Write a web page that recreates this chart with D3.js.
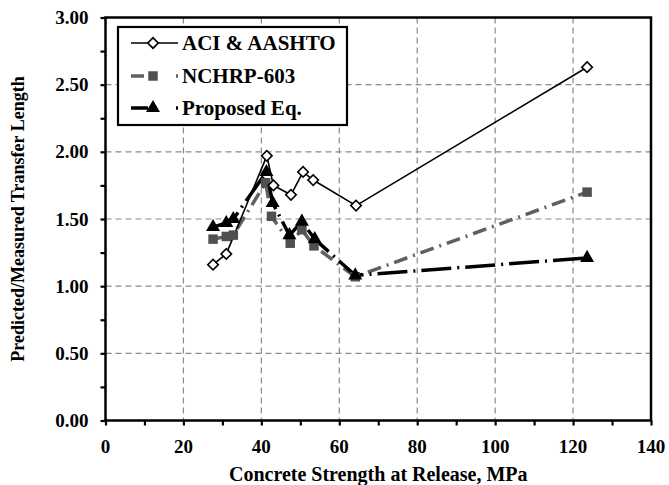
<!DOCTYPE html>
<html>
<head>
<meta charset="utf-8">
<script src="https://cdn.jsdelivr.net/npm/d3@7"></script>
<style>
  body { margin: 0; background: #fff; }
  text { font-family: "Liberation Serif", "Times New Roman", serif; font-weight: bold; }
</style>
</head>
<body>
<script>
// data
let aciX = [27.6, 31.0, 41.4, 43.1, 47.6, 50.7, 53.3, 64.3, 123.6];
let aciY = [1.16, 1.24, 1.97, 1.75, 1.68, 1.85, 1.79, 1.60, 2.63];

let nchrpX = [27.6, 31.0, 32.8, 41.1, 42.6, 47.4, 50.4, 53.5, 64.1, 123.6];
let nchrpY = [1.35, 1.37, 1.38, 1.77, 1.52, 1.32, 1.42, 1.30, 1.07, 1.70];

let propX = [27.6, 31.0, 32.8, 41.3, 42.9, 47.2, 50.4, 53.7, 64.1, 123.6];
let propY = [1.44, 1.47, 1.50, 1.85, 1.62, 1.38, 1.48, 1.35, 1.08, 1.21];

let xTicks = [0, 20, 40, 60, 80, 100, 120, 140];
let yTicks = [0, 0.5, 1, 1.5, 2, 2.5, 3];
let seriesNames = ['ACI & AASHTO', 'NCHRP-603', 'Proposed Eq.'];

let width = 669, height = 485;
let plotLeft = 105.5, plotRight = 651, plotTop = 17.5, plotBottom = 420.5;

let svg = d3.select(document.body).append('svg')
  .attr('width', width)
  .attr('height', height);

let x = d3.scaleLinear().domain([0, 140]).range([plotLeft, plotRight]);
let y = d3.scaleLinear().domain([0, 3]).range([plotBottom, plotTop]);

// grid
let grid = svg.append('g')
  .attr('stroke', '#8a8a8a')
  .attr('stroke-width', 1.2)
  .attr('stroke-dasharray', '6,4');
grid.selectAll('line.v')
  .data(xTicks.filter(d => d > 0 && d < 140))
  .join('line')
    .attr('class', 'v')
    .attr('x1', d => x(d)).attr('x2', d => x(d))
    .attr('y1', plotTop).attr('y2', plotBottom);
grid.selectAll('line.h')
  .data(yTicks.filter(d => d > 0 && d < 3))
  .join('line')
    .attr('class', 'h')
    .attr('x1', plotLeft).attr('x2', plotRight)
    .attr('y1', d => y(d)).attr('y2', d => y(d));

// axes
let xAxis = d3.axisBottom(x).tickValues(d3.range(0, 141, 10)).tickSize(5).tickFormat('');
let yAxis = d3.axisLeft(y).tickValues(d3.range(0, 3.01, 0.25)).tickSize(5).tickFormat('');

svg.append('g')
  .attr('transform', `translate(0,${plotBottom})`)
  .call(xAxis)
  .call(g => g.select('.domain').remove())
  .call(g => g.selectAll('line').attr('stroke', '#000').attr('stroke-width', 2.2));

svg.append('g')
  .attr('transform', `translate(${plotLeft},0)`)
  .call(yAxis)
  .call(g => g.select('.domain').remove())
  .call(g => g.selectAll('line').attr('stroke', '#000').attr('stroke-width', 2.2));

// frame
svg.append('rect')
  .attr('x', plotLeft).attr('y', plotTop)
  .attr('width', plotRight - plotLeft).attr('height', plotBottom - plotTop)
  .attr('fill', 'none')
  .attr('stroke', '#000')
  .attr('stroke-width', 2.5);

// tick labels
svg.append('g')
  .style('font-size', '19px')
  .selectAll('text')
  .data(xTicks)
  .join('text')
    .attr('x', d => x(d))
    .attr('y', plotBottom + 32)
    .attr('text-anchor', 'middle')
    .text(d => d);

svg.append('g')
  .style('font-size', '19px')
  .selectAll('text')
  .data(yTicks)
  .join('text')
    .attr('x', plotLeft - 17)
    .attr('y', d => y(d))
    .attr('dy', '0.35em')
    .attr('text-anchor', 'end')
    .text(d => d3.format('.2f')(d));

// axis titles
svg.append('text')
  .attr('x', (plotLeft + plotRight) / 2)
  .attr('y', 481)
  .attr('text-anchor', 'middle')
  .style('font-size', '20px')
  .text('Concrete Strength at Release, MPa');

svg.append('text')
  .attr('transform', `translate(24,${(plotTop + plotBottom) / 2}) rotate(-90)`)
  .attr('text-anchor', 'middle')
  .style('font-size', '18px')
  .text('Predicted/Measured Transfer Length');

// series
let line = d3.line().x(d => x(d[0])).y(d => y(d[1]));
let aci = d3.zip(aciX, aciY);
let nchrp = d3.zip(nchrpX, nchrpY);
let prop = d3.zip(propX, propY);

svg.append('path')
  .datum(nchrp)
  .attr('d', line)
  .attr('fill', 'none')
  .attr('stroke', '#606060')
  .attr('stroke-width', 3.5)
  .attr('stroke-dasharray', '14,6,2,6');

svg.append('path')
  .datum(prop)
  .attr('d', line)
  .attr('fill', 'none')
  .attr('stroke', '#000')
  .attr('stroke-width', 3.5)
  .attr('stroke-dasharray', '30,6,2,6');

svg.append('path')
  .datum(aci)
  .attr('d', line)
  .attr('fill', 'none')
  .attr('stroke', '#000')
  .attr('stroke-width', 1.6);

let square = d3.symbol().type(d3.symbolSquare).size(90);
let triangle = d3.symbol().type(d3.symbolTriangle).size(85);
let diamond = d3.symbol().type(d3.symbolSquare).size(55);

svg.append('g').selectAll('path')
  .data(nchrp)
  .join('path')
    .attr('transform', d => `translate(${x(d[0])},${y(d[1])})`)
    .attr('d', square)
    .attr('fill', '#505050');

svg.append('g').selectAll('path')
  .data(prop)
  .join('path')
    .attr('transform', d => `translate(${x(d[0])},${y(d[1])})`)
    .attr('d', triangle)
    .attr('fill', '#000');

svg.append('g').selectAll('path')
  .data(aci)
  .join('path')
    .attr('transform', d => `translate(${x(d[0])},${y(d[1])}) rotate(45)`)
    .attr('d', diamond)
    .attr('fill', '#fff')
    .attr('stroke', '#000')
    .attr('stroke-width', 1.6);

// legend
let lg = svg.append('g');
lg.append('rect')
  .attr('x', 118).attr('y', 27)
  .attr('width', 229).attr('height', 98)
  .attr('fill', '#fff')
  .attr('stroke', '#000')
  .attr('stroke-width', 2.2);

let rowY = [43, 76, 108];
let lx0 = 131, lx1 = 178, mx = 153;

lg.append('line')
  .attr('x1', lx0).attr('x2', lx1).attr('y1', rowY[0]).attr('y2', rowY[0])
  .attr('stroke', '#000').attr('stroke-width', 1.6);
lg.append('path')
  .attr('transform', `translate(${mx},${rowY[0]}) rotate(45)`)
  .attr('d', diamond)
  .attr('fill', '#fff').attr('stroke', '#000').attr('stroke-width', 1.6);

lg.append('line')
  .attr('x1', lx0).attr('x2', lx1).attr('y1', rowY[1]).attr('y2', rowY[1])
  .attr('stroke', '#606060').attr('stroke-width', 3.5)
  .attr('stroke-dasharray', '13,32,2,20');
lg.append('path')
  .attr('transform', `translate(${mx},${rowY[1]})`)
  .attr('d', square)
  .attr('fill', '#505050');

lg.append('line')
  .attr('x1', lx0).attr('x2', lx1).attr('y1', rowY[2]).attr('y2', rowY[2])
  .attr('stroke', '#000').attr('stroke-width', 3.5)
  .attr('stroke-dasharray', '17,28,2,20');
lg.append('path')
  .attr('transform', `translate(${mx},${rowY[2]})`)
  .attr('d', triangle)
  .attr('fill', '#000');

lg.selectAll('text')
  .data(seriesNames)
  .join('text')
    .attr('x', 182)
    .attr('y', (d, i) => rowY[i])
    .attr('dy', '0.35em')
    .style('font-size', '21px')
    .text(d => d);
</script>
</body>
</html>
